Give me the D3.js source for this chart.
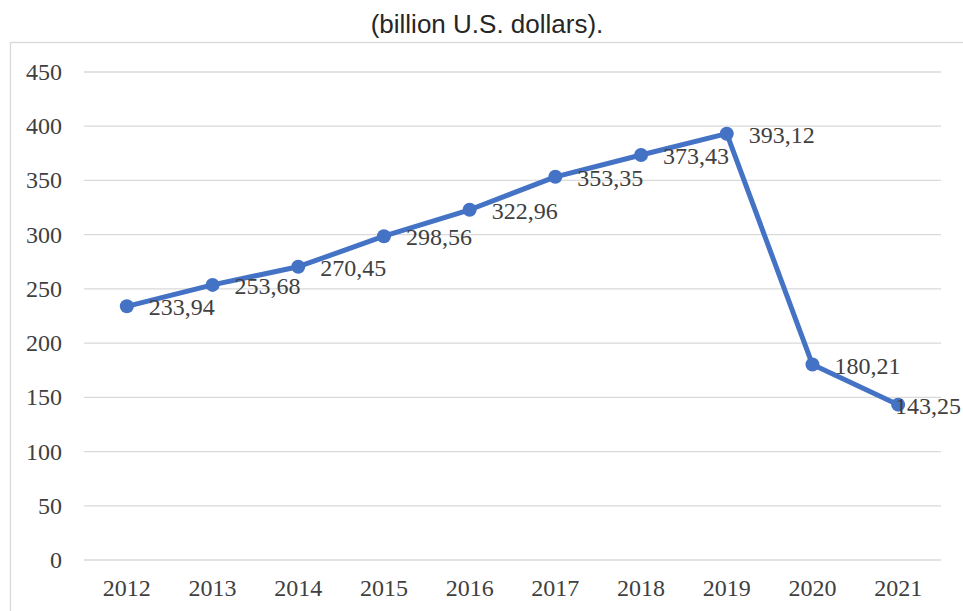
<!DOCTYPE html>
<html lang="en">
<head>
<meta charset="utf-8" />
<title>billion U.S. dollars</title>
<script src="https://cdn.jsdelivr.net/npm/d3@7"></script>
<style>
  * { margin: 0; padding: 0; }
  body { background: #fff; width: 963px; height: 611px; overflow: hidden; }
  .num { font-family: "Liberation Serif", Tinos, "Times New Roman", Times, "DejaVu Serif", serif; font-size: 24px; fill: #404040; }
  .title { font-family: "Liberation Sans", Arial, sans-serif; font-size: 26px; fill: #262626; }
  .grid line { stroke: #d9d9d9; stroke-width: 1.3px; }
</style>
</head>
<body>
<div id="chart"></div>
<script>
// data
var years = ["2012", "2013", "2014", "2015", "2016", "2017", "2018", "2019", "2020", "2021"];
var values = [233.94, 253.68, 270.45, 298.56, 322.96, 353.35, 373.43, 393.12, 180.21, 143.25];
var labels = ["233,94", "253,68", "270,45", "298,56", "322,96", "353,35", "373,43", "393,12", "180,21", "143,25"];
var yTicks = [0, 50, 100, 150, 200, 250, 300, 350, 400, 450];

var W = 963, H = 611;
var plot = {left: 84, right: 941, top: 72, bottom: 560};

var svg = d3.select("#chart").append("svg")
    .attr("width", W)
    .attr("height", H);

// chart frame
svg.append("rect")
    .attr("x", 10.5).attr("y", 42.5)
    .attr("width", W + 10).attr("height", H)
    .attr("fill", "none")
    .attr("stroke", "#d9d9d9")
    .attr("stroke-width", 1.3);

svg.append("text")
    .attr("class", "title")
    .attr("x", 487).attr("y", 33)
    .attr("text-anchor", "middle")
    .text("(billion U.S. dollars).");

var x = d3.scaleBand()
    .domain(years)
    .range([plot.left, plot.right]);

var y = d3.scaleLinear()
    .domain([0, 450])
    .range([plot.bottom, plot.top]);

// gridlines
svg.append("g")
    .attr("class", "grid")
  .selectAll("line")
    .data(yTicks)
  .enter().append("line")
    .attr("x1", plot.left).attr("x2", plot.right)
    .attr("y1", function(d) { return y(d); })
    .attr("y2", function(d) { return y(d); });

// y axis labels
svg.append("g")
  .selectAll("text")
    .data(yTicks)
  .enter().append("text")
    .attr("class", "num")
    .attr("x", 62)
    .attr("y", function(d) { return y(d) + 8; })
    .attr("text-anchor", "end")
    .text(function(d) { return d; });

// x axis labels
svg.append("g")
  .selectAll("text")
    .data(years)
  .enter().append("text")
    .attr("class", "num")
    .attr("x", function(d) { return x(d) + x.bandwidth() / 2; })
    .attr("y", 596)
    .attr("text-anchor", "middle")
    .text(function(d) { return d; });

var pts = years.map(function(yr, i) {
  return {x: x(yr) + x.bandwidth() / 2, y: y(values[i]), label: labels[i]};
});

var line = d3.line()
    .x(function(d) { return d.x; })
    .y(function(d) { return d.y; });

svg.append("path")
    .datum(pts)
    .attr("d", line)
    .attr("fill", "none")
    .attr("stroke", "#4472c4")
    .attr("stroke-width", 5)
    .attr("stroke-linejoin", "round");

svg.append("g")
  .selectAll("circle")
    .data(pts)
  .enter().append("circle")
    .attr("cx", function(d) { return d.x; })
    .attr("cy", function(d) { return d.y; })
    .attr("r", 7)
    .attr("fill", "#4472c4");

// data labels, right of the point, kept inside the frame
svg.append("g")
  .selectAll("text")
    .data(pts)
  .enter().append("text")
    .attr("class", "num")
    .attr("y", function(d) { return d.y + 9; })
    .text(function(d) { return d.label; })
    .attr("x", function(d) {
      var w = this.getComputedTextLength();
      return Math.min(d.x + 22, 961 - w);
    });
</script>
</body>
</html>
